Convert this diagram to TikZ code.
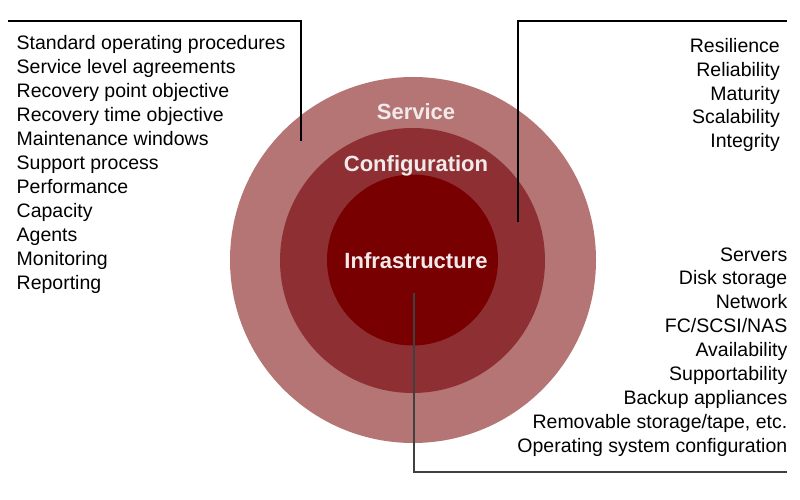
\documentclass[tikz,border=0pt]{standalone}
\usepackage{fontspec}
\setmainfont{Liberation Sans}
\definecolor{outerc}{HTML}{B57575}
\definecolor{midc}{HTML}{8E3033}
\definecolor{innerc}{HTML}{780000}
\definecolor{labc}{HTML}{F2EAEA}
\begin{document}
\begin{tikzpicture}[x=1pt,y=-1pt,
  ring/.style={circle,inner sep=0pt,draw=none},
  item/.style={inner sep=0pt,font=\fontsize{19.5}{23}\selectfont},
  itemL/.style={item,anchor=base west},
  itemR/.style={item,anchor=base east},
  lab/.style={inner sep=0pt,anchor=base,text=labc,font=\bfseries\fontsize{22}{25}\selectfont},
  leader/.style={line width=1.3pt,black},
  leaderB/.style={line width=1.8pt,black!75}]
\useasboundingbox (0,0) rectangle (800,500);
% rings
\node[ring,fill=outerc,minimum size=366pt] (svc) at (413,260) {};
\node[ring,fill=midc,minimum size=265pt] (cfg) at (412.5,260.5) {};
\node[ring,fill=innerc,minimum size=171pt] (inf) at (412.5,260) {};
% ring labels
\node[lab] (tsvc) at (416,119.3) {Service};
\node[lab] (tcfg) at (416,171.5) {Configuration};
\node[lab] (tinf) at (416,268.3) {Infrastructure};
% left list
\foreach \t [count=\i] in {Standard operating procedures,Service level agreements,Recovery point objective,Recovery time objective,Maintenance windows,Support process,Performance,Capacity,Agents,Monitoring,Reporting}
  \node[itemL] (left\i) at (16.5,{50+(\i-1)*23.9}) {\t};
% right top list
\foreach \t [count=\i] in {Resilience,Reliability,Maturity,Scalability,Integrity}
  \node[itemR] (rt\i) at (780,{52.5+(\i-1)*23.8}) {\t};
% right bottom list
\foreach \t [count=\i] in {Servers,Disk storage,Network,FC/SCSI/NAS,Availability,Supportability,Backup appliances,{Removable storage/tape, etc.},Operating system configuration}
  \node[itemR] (rb\i) at (787.5,{261+(\i-1)*23.9}) {\t};
% leader lines
\coordinate (la) at (8,21);
\coordinate (lb) at (301,21);
\coordinate (lc) at (301,141);
\coordinate (ra) at (518,222);
\coordinate (rb) at (518,21);
\coordinate (rc) at (787,21);
\coordinate (ba) at (414,293);
\coordinate (bb) at (414,472);
\coordinate (bc) at (787,472);
\draw[leader] (la) -- (lb) -- (lc);
\draw[leader] (ra) -- (rb) -- (rc);
\draw[leaderB] (ba) -- (bb) -- (bc);
\end{tikzpicture}
\end{document}
